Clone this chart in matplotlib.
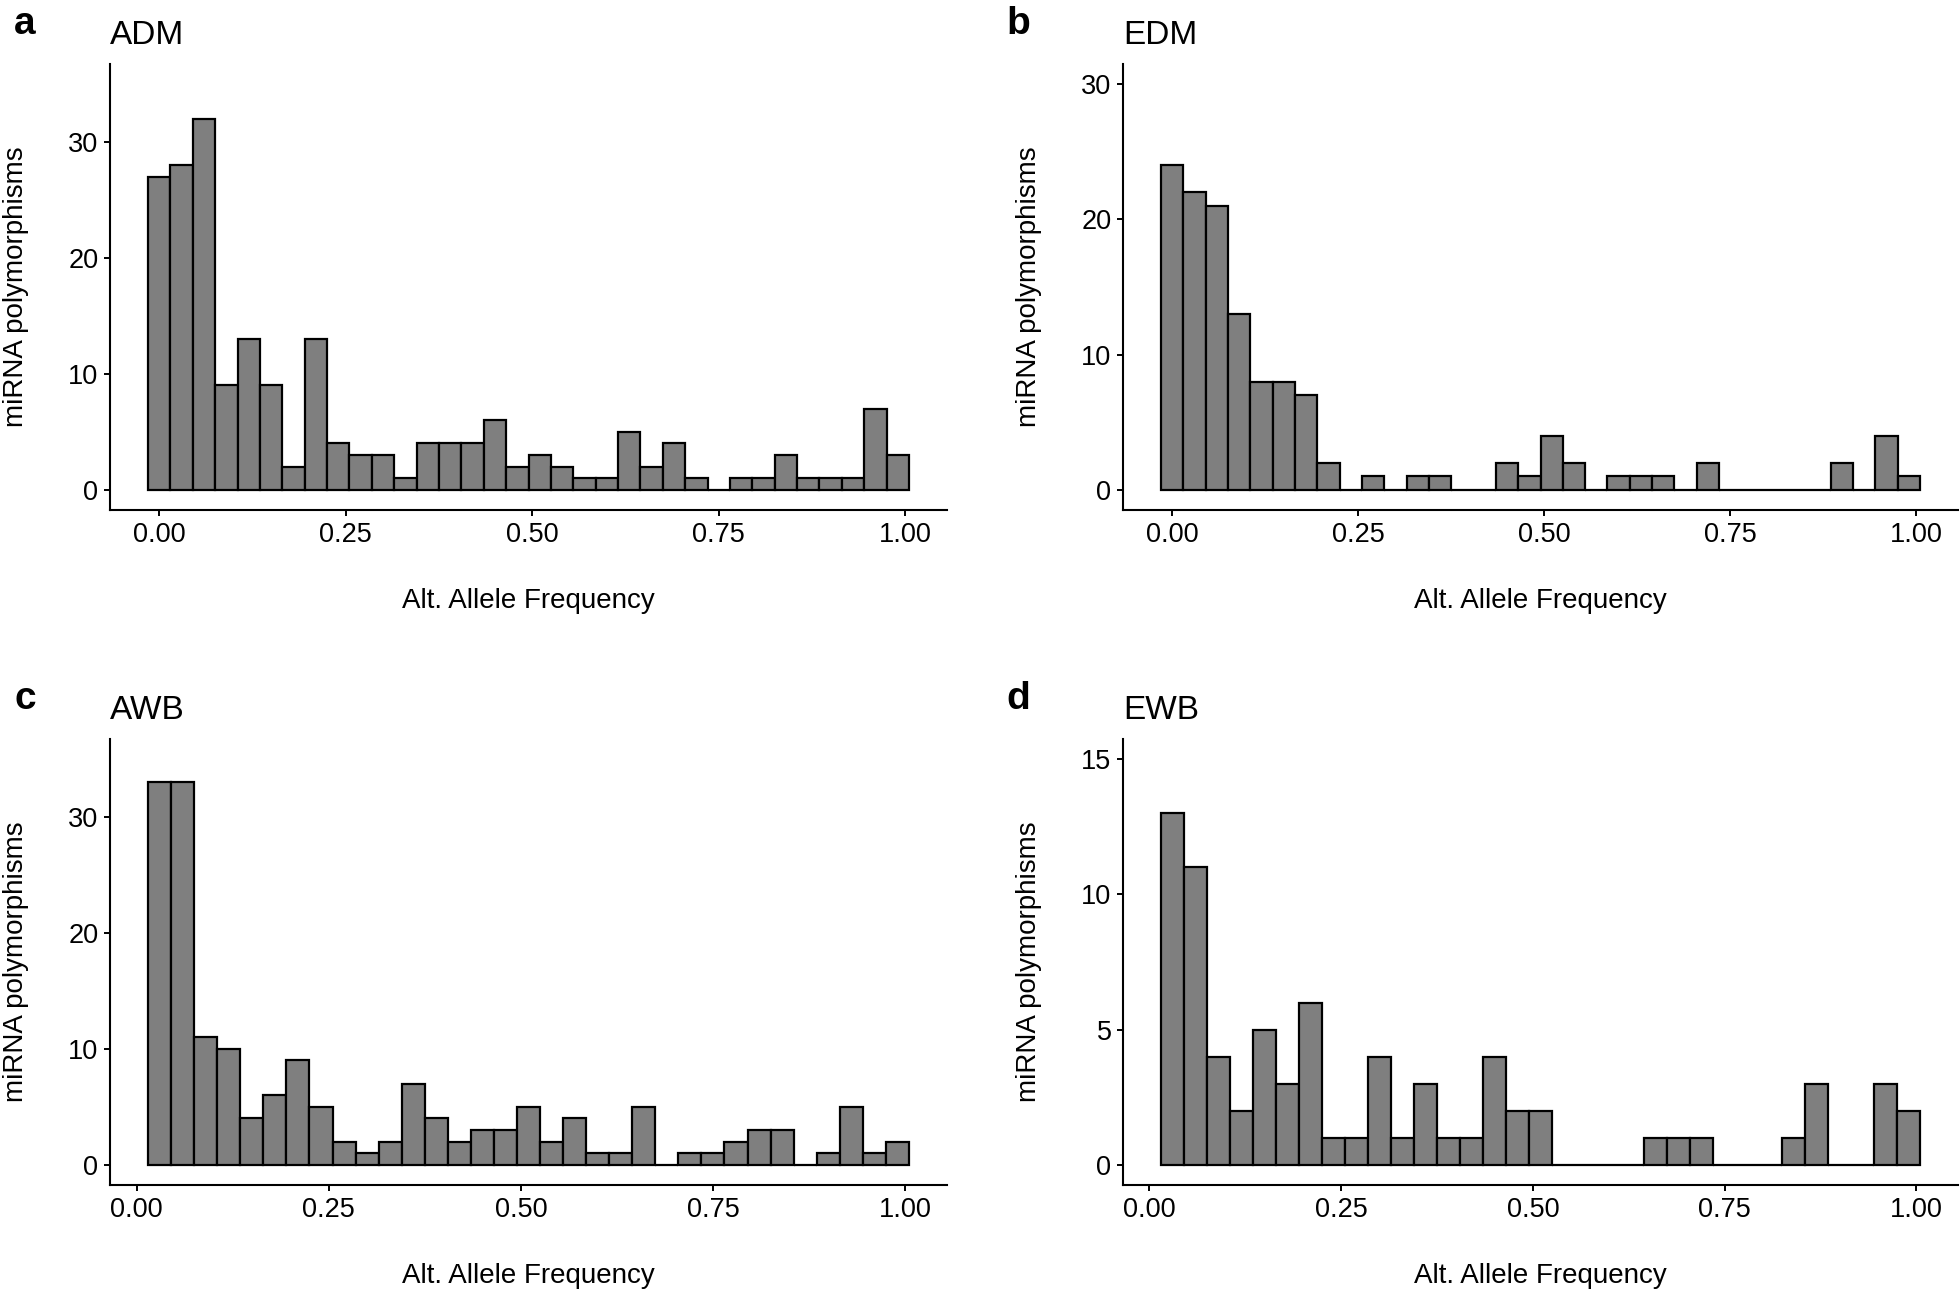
import numpy as np
import matplotlib
matplotlib.use("Agg")
import matplotlib.pyplot as plt

plt.rcParams['font.family'] = ['Liberation Sans', 'DejaVu Sans']

# ---- data (counts per bin) ----
binwidth = 0.03
adm_counts = [27, 28, 32, 9, 13, 9, 2, 13, 4, 3, 3, 1, 4, 4, 4, 6, 2, 3, 2, 1, 1, 5, 2, 4, 1, 0, 1, 1, 3, 1, 1, 1, 7, 3]
edm_counts = [24, 22, 21, 13, 8, 8, 7, 2, 0, 1, 0, 1, 1, 0, 0, 2, 1, 4, 2, 0, 1, 1, 1, 0, 2, 0, 0, 0, 0, 0, 2, 0, 4, 1]
awb_counts = [33, 33, 11, 10, 4, 6, 9, 5, 2, 1, 2, 7, 4, 2, 3, 3, 5, 2, 4, 1, 1, 5, 0, 1, 1, 2, 3, 3, 0, 1, 5, 1, 2]
ewb_counts = [13, 11, 4, 2, 5, 3, 6, 1, 1, 4, 1, 3, 1, 1, 4, 2, 2, 0, 0, 0, 0, 1, 1, 1, 0, 0, 0, 1, 3, 0, 0, 3, 2]
# index of first bin centre (centre = index * binwidth)
first_bin = [0, 0, 1, 1]
titles = ["ADM", "EDM", "AWB", "EWB"]
letters = ["a", "b", "c", "d"]
y_scale_max = [35, 30, 35, 15]
y_ticks = [[0, 10, 20, 30], [0, 10, 20, 30], [0, 10, 20, 30], [0, 5, 10, 15]]
x_ticks = [0.0, 0.25, 0.5, 0.75, 1.0]
x_ticklabels = ["0.00", "0.25", "0.50", "0.75", "1.00"]
xlabel = "Alt. Allele Frequency"
ylabel = "miRNA polymorphisms"
all_counts = [adm_counts, edm_counts, awb_counts, ewb_counts]

W, H = 1960, 1290
fig = plt.figure(figsize=(W / 100, H / 100), dpi=100)

# panel boxes in pixels: left, top, right, bottom
boxes = [(110, 64, 947, 510), (1123, 64, 1958, 510),
         (110, 739, 947, 1185), (1123, 739, 1958, 1185)]

TICK_FS = 19.5
LAB_FS = 20
for i in range(4):
    l, t, r, b = boxes[i]
    ax = fig.add_axes([l / W, 1 - b / H, (r - l) / W, (b - t) / H])
    counts = np.array(all_counts[i])
    centers = (np.arange(len(counts)) + first_bin[i]) * binwidth
    ax.bar(centers, counts, width=binwidth, color='#7f7f7f', edgecolor='black',
           linewidth=1.6, align='center', zorder=2)
    lo = centers[0] - binwidth / 2
    hi = centers[-1] + binwidth / 2
    rng = hi - lo
    ax.set_xlim(lo - 0.05 * rng, hi + 0.05 * rng)
    M = y_scale_max[i]
    ax.set_ylim(-0.05 * M, 1.05 * M)
    ax.set_xticks(x_ticks)
    ax.set_xticklabels(x_ticklabels)
    ax.set_yticks(y_ticks[i])
    for s in ['top', 'right']:
        ax.spines[s].set_visible(False)
    for s in ['left', 'bottom']:
        ax.spines[s].set_linewidth(1.5)
        ax.spines[s].set_color('black')
    ax.tick_params(axis='both', direction='out', length=4.3, width=1.4,
                   labelsize=TICK_FS, colors='black', pad=4)
    ax.set_xlabel(xlabel, fontsize=LAB_FS, labelpad=29)
    ax.set_ylabel(ylabel, fontsize=LAB_FS, labelpad=28)
    # title, left aligned with panel
    fig.text(l / W, 1 - (t - 20) / H, titles[i], fontsize=24, ha='left', va='baseline')
    # panel letter
    lx = 14 if l < 500 else 1006
    fig.text(lx / W, 1 - (t - 30) / H, letters[i], fontsize=28, fontweight='bold',
             ha='left', va='baseline')

fig.savefig("out.png", dpi=100)
